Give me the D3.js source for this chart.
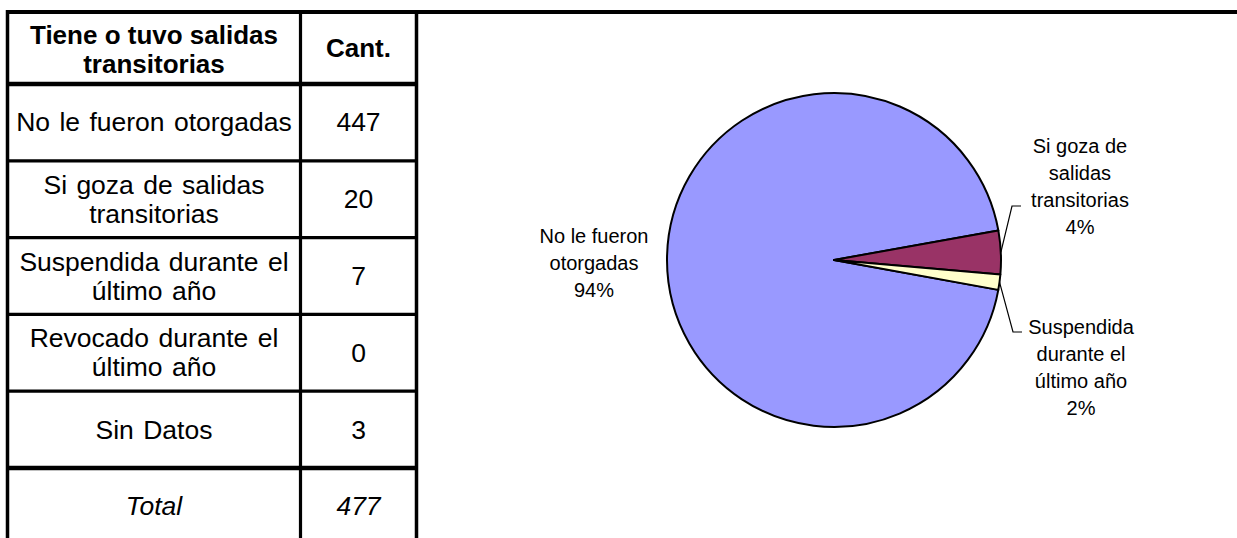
<!DOCTYPE html>
<html><head><meta charset="utf-8">
<script src="https://cdn.jsdelivr.net/npm/d3@7"></script>
<style>html,body{margin:0;padding:0;background:#fff;overflow:hidden}svg{display:block}text{font-family:"Liberation Sans",Arial,sans-serif;fill:#000}</style>
</head><body><svg id="c" width="1237" height="538"></svg>
<script>
// ---- data ----
const headerLabels = [["Tiene o tuvo salidas","transitorias"], ["Cant."]];
const categories = ["No le fueron otorgadas","Si goza de salidas transitorias","Suspendida durante el último año","Revocado durante el último año","Sin Datos"];
const tableLines = [["No le fueron otorgadas"],["Si goza de salidas","transitorias"],["Suspendida durante el","último año"],["Revocado durante el","último año"],["Sin Datos"]];
const counts = [447,20,7,0,3];
const totalLabel = "Total";
const pieCategories = ["No le fueron otorgadas","Si goza de salidas transitorias","Suspendida durante el último año"];
const pieValues = [447,20,7];
const piePctLabels = ["94%","4%","2%"];
const pieLabelLines = [["No le fueron","otorgadas"],["Si goza de","salidas","transitorias"],["Suspendida","durante el","último año"]];
const pieColors = ["#9999FF","#993366","#FFFFCC"];

const svg = d3.select("#c");
// ---- table ----
const colX = [7.5, 300.5, 416.5];
const rowY = d3.range(8).map(i => i === 0 ? 12 : 84 + (i-1)*76.8);
const total = d3.sum(counts);
const rows = tableLines.map((l,i)=>({lines:l, val:counts[i], italic:false}));
rows.push({lines:[totalLabel], val:total, italic:true});

const LH = 29;
function multiline(g, lines, x, cy, opts){
  const n = lines.length;
  lines.forEach((t,j)=>{
    g.append("text").attr("x",x).attr("y", cy + (j-(n-1)/2)*LH)
     .attr("text-anchor","middle").attr("dominant-baseline","central")
     .style("font-size",(opts.bold?26:26.5)+"px").style("font-weight",opts.bold?"bold":"normal")
     .style("word-spacing",opts.bold?"0px":"2px")
     .style("font-style",opts.italic?"italic":"normal").text(t);
  });
}
const tg = svg.append("g");
multiline(tg, headerLabels[0], (colX[0]+colX[1])/2, (rowY[0]+rowY[1])/2+1, {bold:true});
multiline(tg, headerLabels[1], (colX[1]+colX[2])/2, (rowY[0]+rowY[1])/2, {bold:true});
rows.forEach((r,i)=>{
  const cy = (rowY[i+1]+rowY[i+2])/2;
  multiline(tg, r.lines, (colX[0]+colX[1])/2, cy, {italic:r.italic});
  multiline(tg, [String(r.val)], (colX[1]+colX[2])/2, cy, {italic:r.italic});
});
rowY.slice(1,7).forEach((y,i)=>{
  tg.append("line").attr("x1",colX[0]).attr("x2",colX[2]).attr("y1",y).attr("y2",y)
    .attr("stroke","#000").attr("stroke-width",(i===0||i===5)?4.5:3.2);
});
tg.append("line").attr("x1",6).attr("x2",1237).attr("y1",12).attr("y2",12).attr("stroke","#000").attr("stroke-width",4);
colX.forEach((x,i)=>{
  tg.append("line").attr("x1",x).attr("x2",x).attr("y1",10).attr("y2",538)
    .attr("stroke","#000").attr("stroke-width",i===1?3.2:3.5);
});

// ---- pie ----
const cx = 834, cy = 260, R = 167;
const startA = 100.3*Math.PI/180;
const pie = d3.pie().sort(null).startAngle(startA).endAngle(startA+2*Math.PI);
const arcs = pie(pieValues);
const arc = d3.arc().innerRadius(0).outerRadius(R);
const pg = svg.append("g").attr("transform",`translate(${cx},${cy})`);
pg.selectAll("path").data(arcs).join("path").attr("d",arc)
  .attr("fill",(d,i)=>pieColors[i]).attr("stroke","#000").attr("stroke-width",2).attr("stroke-linejoin","round");

const labelPos = [{x:594, y:[243,270]}, {x:1080, y:[153,180,207]}, {x:1081, y:[334,361,388]}];
const LS = 20;
arcs.forEach((a,i)=>{
  const lines = pieLabelLines[i].concat([piePctLabels[i]]);
  const p = labelPos[i];
  lines.forEach((t,j)=>{
    svg.append("text").attr("x",p.x).attr("y",p.y[0]+j*27).attr("text-anchor","middle")
      .style("font-size",LS+"px").text(t);
  });
});
const leaders = [null, [[1012,206],[1021,206]], [[1013,332],[1022,332]]];
arcs.forEach((a,i)=>{
  if(!leaders[i]) return;
  const m = (a.startAngle+a.endAngle)/2;
  const p0 = [cx + R*Math.sin(m), cy - R*Math.cos(m)];
  svg.append("path").attr("d", d3.line()([p0].concat(leaders[i])))
    .attr("fill","none").attr("stroke","#000").attr("stroke-width",1.2);
});
</script></body></html>
